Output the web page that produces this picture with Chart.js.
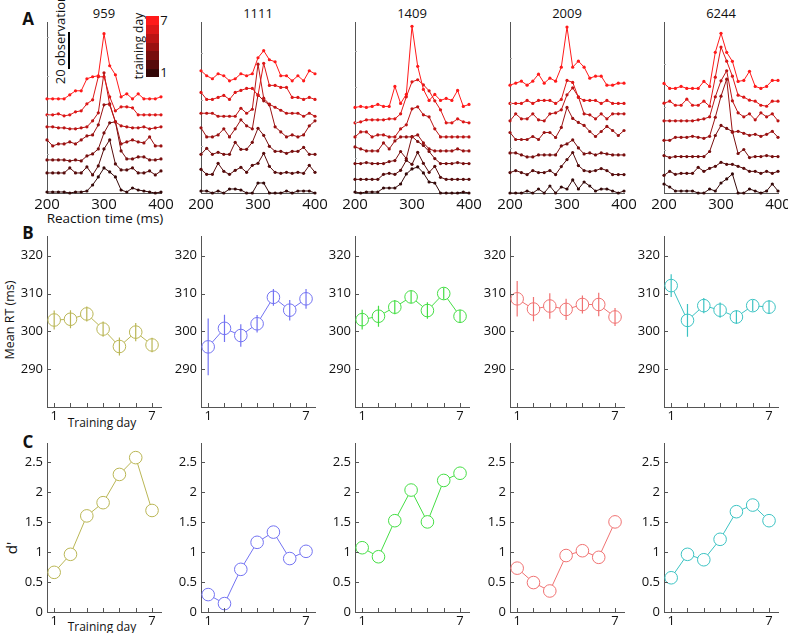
<!DOCTYPE html>
<html><head><meta charset="utf-8">
<script src="https://cdn.jsdelivr.net/npm/chart.js@4.4.1/dist/chart.umd.min.js"></script>
<style>
body{margin:0;background:#fff;width:788px;height:633px;position:relative;overflow:hidden;font-family:'Open Sans',sans-serif;color:#111;}
canvas{position:absolute;}
.t{position:absolute;white-space:nowrap;font-size:12px;line-height:1;transform:translate(-50%,-50%);}
.r{transform:translate(-50%,-50%) rotate(-90deg);}
.L{font-weight:bold;font-size:17px;}
.sw{position:absolute;left:146px;width:13px;}
</style></head><body>
<div class="t L" style="left:28px;top:18px">A</div>
<div class="t L" style="left:28px;top:232px">B</div>
<div class="t L" style="left:28px;top:441px">C</div>
<div class="t" style="left:105px;top:219px;font-size:13.5px">Reaction time (ms)</div>
<div class="t r" style="left:10px;top:320px;font-size:12.5px">Mean RT (ms)</div>
<div class="t" style="left:102px;top:423px">Training day</div>
<div class="t" style="left:102px;top:627px">Training day</div>
<div class="t r" style="left:11px;top:548px;font-size:15px">d'</div>
<div class="t r" style="left:60px;top:36px;font-size:13px">20 observations</div>
<div style="position:absolute;left:68px;top:32px;width:2px;height:37px;background:#000"></div>
<div class="t r" style="left:139px;top:46px;font-size:12px">training day</div>
<div class="t" style="left:164px;top:20px;font-size:13px">7</div>
<div class="t" style="left:164px;top:72px;font-size:13px">1</div>
<div id="cbar"></div>
<script>
// ---------- data ----------
const rtBins = [200,210,220,230,240,250,260,270,280,290,300,310,320,330,340,350,360,370,380,390,400];
const days = [1,2,3,4,5,6,7];
const animals = ['959','1111','1409','2009','6244'];

// RT histograms (counts per bin, one row per training day 1..7) and vertical stacking offsets
const hist959 = [
 [0.5,0.5,0.5,0.5,0,0.5,0.5,1,4,8,12.5,10.5,8,1.5,0.5,2.5,1.5,1,0.5,0,0.5],
 [1,1,1,1,3.5,1,1,4,0,4.5,13,17.5,5.5,2.5,2.5,3.5,1,1,2,0,2],
 [0.5,0.5,0.5,0.5,0,0.5,0,2.5,3.5,6,14,19,19.5,5,1,1,2,2,0.5,0.5,1],
 [3.5,0.5,1.5,1.5,2.5,1.5,3.5,5.5,6,11,21,21.5,12.5,1.5,2.5,3.5,2.5,2,5,0.5,0.5],
 [1,1,0.5,0.5,0,0,0.5,1,4,8,28,12,3.5,1.5,1,0.5,0.5,1,0,0.5,1],
 [0.5,0.5,1,0,0.5,2,2.5,6,8,19.5,19.5,9.5,2.5,4.5,4.5,4,0.5,0.5,0.5,0.5,0.5],
 [0,0,0,0,2,4,4,10,11,11.5,32.5,16.5,12,1,2.5,0,2.5,0,0,0,1]];
const offsets959 = [0,9,16,23,32,38.5,47];

const hist1111 = [
 [1,1,0,1,0,2,2,1.5,0,0,5,5,0,0,0,1,0,1,1,1,0],
 [2.5,0,0,5.5,1.5,0,2,3.5,1,4.5,5.5,10.5,4,1,0.5,1,0.5,1,0.5,4.5,1],
 [0,3,0,1,0,0,6,2.5,2.5,6,13,9.5,4,1.5,1.5,0.5,1.5,1.5,3.5,0,0],
 [4.5,0,0,1,4,0,4,8.5,5.5,4,21,18,16,5,2.5,0,1,0,1,5.5,8],
 [1.5,1.5,1.5,0,0,0,0,4,1.5,3.5,26,9,6,4.5,3,1.5,1.5,1.5,0,1.5,0],
 [3.5,0,0,1,2,0,3.5,4.5,5.5,5.5,2,18,7,7,6,6,1,1,0,1,0],
 [5,2.5,1,3.5,2.5,0,1,3.5,2.5,3.5,11.5,15,10.5,9.5,2.5,2.5,0,2.5,0,5,3.5]];
const offsets1111 = [0,9.3,19.3,28,38.3,46.7,56];

const hist1409 = [
 [0.5,0,0.5,0.5,0.5,2.5,2.5,2.5,4.5,9.5,12,13,10,5.5,5,0,0,0,0,0.5,0],
 [0,0,0,0,0,2.5,3,2.5,4.5,9.5,7.5,13.5,8,3.5,6.5,1,0,0,0,0,0],
 [0,0,0.5,0,0,0,1,1.5,6,2.5,13.5,11,9,6,2.5,0,0,0,0.5,0,0],
 [2,1,0,0,0,4,1,5,7,7,7,8,4,1,0,0,0,0,1,0,0],
 [0,2.5,2.5,0,1,1,0,0,4,6,14,15,11,10,4,0,0,0,0,0,0],
 [0,0.5,1.5,1.5,1.5,1.5,2,2,4.5,13,20.5,21.5,19,16,11,6.5,0,0,2,0.5,0],
 [0,0.5,0,0.5,1.5,0.5,0.5,10.5,2,6.5,40.5,20.5,9,3.5,6.5,3.5,4.5,3.5,8.5,0.5,1.5]];
const offsets1409 = [0,6.8,14.7,21,28,35,42.7];

const hist2009 = [
 [0,0,0,1,0,2,0,3.5,0,3,2,6.5,2,5.5,3.5,1,2,2,1,0,1],
 [1,2,1,0,2,1,1,2,0,4,7.5,11,4.5,2,1.5,2,3,2,0,0,0],
 [2,2,1,0,0,1,1,1,1,5.5,6.5,8.5,4.5,1.5,2,1,2,1.5,1,1,1],
 [3.5,0,0,0,1.5,0,3.5,3.5,1,6,16,10.5,8.5,7,4,1.5,4,6.5,4.5,2,4.5],
 [0,3.5,1,1,3.5,0.5,0,3.5,4,5.5,13,16.5,12,3.5,3,1,3.5,1,3.5,3.5,3.5],
 [0,0,0,1.5,0,1.5,1.5,1.5,0,2,11.5,10.5,3,1.5,1.5,1.5,0,1.5,0,0,0],
 [0,1,2,0,2,5.5,1,3.5,2,9,29,9,12,9,3.5,4.5,4.5,0,0,1,1]];
const offsets2009 = [0,9.2,18,26.7,36,44.7,53.8];

const hist6244 = [
 [4.5,3,1,1,1,1,0,0,2,1,5,7,9.5,0,0,2,1,0,1,4.5,1],
 [0,2,0.5,1,1,1,4,2,3.5,4.5,6.5,5.5,5.5,4.5,3.5,2,2,1,2,1,2],
 [1,0,0.5,0.5,0.5,0.5,0.5,0.5,3,11,16,14.5,13,2,4,0,0.5,0.5,1,0.5,0.5],
 [0,0,1.5,1.5,1.5,2,1.5,1,2,11.5,22,30.5,4,4.5,3.5,2.5,3,2,3,4.5,1.5],
 [0,0,0,0,0,0,0.5,1,2,12,20,25,10,4,2,3.5,0.5,4,2,3.5,0],
 [1.5,2.5,0.5,0.5,3.5,0.5,0.5,2.5,0,14.5,29.5,22.5,15,5.5,4.5,3,2.5,0.5,0,2.5,2.5],
 [2.5,0,0,1,0,0,0,3.5,1,18,27.5,18,13.5,3.5,4,8.5,1,0,1,4,4]];
const offsets6244 = [0,8.8,17.7,26.3,36,43.3,52.2];

// units per "20 observations" tick in each histogram panel
const obsTick = [19.5,23.3,17.7,22.5,21.5];

// Mean RT (ms) and error (ms) per training day
const meanRT959  = [303.0,303.2,304.6,300.6,296.0,299.8,296.4];
const errRT959   = [2.5,2.4,2.0,2.0,2.4,2.4,1.9];
const meanRT1111 = [295.9,300.8,298.9,302.0,309.0,305.6,308.6];
const errRT1111  = [7.5,3.6,3.0,2.3,2.2,2.7,2.6];
const meanRT1409 = [303.1,304.0,306.4,309.1,305.5,310.0,304.0];
const errRT1409  = [2.6,2.8,1.9,1.7,2.2,1.6,1.7];
const meanRT2009 = [308.6,305.9,306.7,305.8,307.1,307.1,303.8];
const errRT2009  = [4.7,3.2,3.4,2.8,2.4,3.1,2.4];
const meanRT6244 = [312.1,302.9,306.8,305.6,303.8,306.8,306.4];
const errRT6244  = [3.0,4.3,2.0,2.0,1.8,1.5,1.8];

// d' per training day
const dprime959  = [0.66,0.96,1.60,1.82,2.29,2.57,1.69];
const dprime1111 = [0.29,0.14,0.71,1.16,1.33,0.89,1.01];
const dprime1409 = [1.07,0.92,1.52,2.03,1.50,2.19,2.31];
const dprime2009 = [0.73,0.49,0.35,0.94,1.02,0.91,1.50];
const dprime6244 = [0.57,0.96,0.87,1.21,1.67,1.78,1.52];

const rtTicks = [200,300,400];
const meanTicks = [290,300,310,320];
const dTicks = [0,0.5,1,1.5,2,2.5];

// ---------- style ----------
const hists = [hist959,hist1111,hist1409,hist2009,hist6244];
const offs = [offsets959,offsets1111,offsets1409,offsets2009,offsets6244];
const means = [meanRT959,meanRT1111,meanRT1409,meanRT2009,meanRT6244];
const errs = [errRT959,errRT1111,errRT1409,errRT2009,errRT6244];
const dps = [dprime959,dprime1111,dprime1409,dprime2009,dprime6244];
const animalColors = ['#bab655','#7373f2','#45de45','#f07272','#3cc3c3'];
function dayColor(d){ const t=d/6; const r=Math.round(52+203*t), g=Math.round(8+18*t); return `rgb(${r},${g},${g})`; }

Chart.defaults.font.family = "'Open Sans', sans-serif";
Chart.defaults.font.size = 12;
Chart.defaults.color = '#111';
Chart.defaults.animation = false;

const colL = [47,201,355,510,664];
const PW = 114;
const AXC = '#555';

// colorbar
const cb = document.getElementById('cbar');
for(let d=0; d<7; d++){
  const s=document.createElement('div'); s.className='sw';
  const h=61/7; s.style.top=(77 - (d+1)*h)+'px'; s.style.height=(h+0.5)+'px'; s.style.background=dayColor(d);
  cb.appendChild(s);
}

animals.forEach((a,i)=>{
  const t=document.createElement('div'); t.className='t'; t.style.fontSize='13px';
  t.style.left=(colL[i]+PW/2)+'px'; t.style.top='12.5px'; t.textContent=a; document.body.appendChild(t);
});

function mk(x0, top, bottom, padL, padR, padT, padB, cfg){
  const cv=document.createElement('canvas');
  const W=padL+PW+padR, H=padT+(bottom-top)+padB;
  cv.width=W; cv.height=H;
  cv.style.left=(x0-padL)+'px'; cv.style.top=(top-padT)+'px';
  document.body.appendChild(cv);
  cfg.options.responsive=false;
  cfg.options.layout={padding:{left:0,right:padR,top:padT,bottom:0}};
  cfg.options.plugins={legend:{display:false},tooltip:{enabled:false}};
  cfg.options.scales.x.afterFit=s=>{s.height=padB;};
  cfg.options.scales.y.afterFit=s=>{s.width=padL;};
  return new Chart(cv,cfg);
}

function tickPlugin(xVals, yVals, len, color){
  return {id:'inticks', afterDatasetsDraw(chart){
    const c=chart.ctx, a=chart.chartArea, xs=chart.scales.x, ys=chart.scales.y;
    c.save(); c.strokeStyle=color; c.lineWidth=1; c.beginPath();
    yVals.forEach(v=>{const y=Math.round(ys.getPixelForValue(v))+0.5; c.moveTo(a.left,y); c.lineTo(a.left+len,y);});
    xVals.forEach(v=>{const x=Math.round(xs.getPixelForValue(v))+0.5; c.moveTo(x,a.bottom); c.lineTo(x,a.bottom-len);});
    c.stroke(); c.restore();
  }};
}

// Row A: RT histograms
for(let i=0;i<5;i++){
  const yt=[]; for(let v=obsTick[i]; v<85; v+=obsTick[i]) yt.push(v);
  mk(colL[i], 22, 193, 36, 20, 6, 24, {
    type:'line',
    data:{datasets: hists[i].map((counts,d)=>({
      data: rtBins.map((x,k)=>({x, y: offs[i][d]+counts[k]})),
      borderColor: dayColor(d), backgroundColor: dayColor(d),
      pointBackgroundColor: dayColor(d), pointBorderColor: dayColor(d),
      borderWidth:1, pointRadius:1.6, pointBorderWidth:0, clip:false, order:6-d, tension:0
    }))},
    options:{scales:{
      x:{type:'linear',min:200,max:400,afterBuildTicks:s=>{s.ticks=rtTicks.map(v=>({value:v}));},
         grid:{display:false,drawTicks:false},border:{color:AXC},ticks:{padding:3,font:{size:15}}},
      y:{type:'linear',min:0,max:85.33,grid:{display:false,drawTicks:false},border:{color:AXC},ticks:{display:false}}
    }},
    plugins:[tickPlugin([], yt, 2, '#aaa')]
  });
}

function errPlugin(vals, e, color){
  return {id:'errbars', afterDatasetsDraw(chart){
    const c=chart.ctx, xs=chart.scales.x, ys=chart.scales.y;
    c.save(); c.strokeStyle=color; c.lineWidth=1.2; c.beginPath();
    days.forEach((d,k)=>{const x=xs.getPixelForValue(d);
      c.moveTo(x, ys.getPixelForValue(vals[k]-e[k])); c.lineTo(x, ys.getPixelForValue(vals[k]+e[k]));});
    c.stroke(); c.restore();
  }};
}

function dayScale(){
  return {type:'linear',min:0.56,max:7.55,afterBuildTicks:s=>{s.ticks=days.map(v=>({value:v}));},
    grid:{display:false,drawTicks:false},border:{color:AXC},
    ticks:{padding:1,autoSkip:false,maxRotation:0,callback:v=>(v===1||v===7)?String(v):'',font:{size:13}}};
}

// Row B: mean RT
for(let i=0;i<5;i++){
  mk(colL[i], 235, 407, 36, 10, 10, 18, {
    type:'line',
    data:{datasets:[{data: days.map((d,k)=>({x:d,y:means[i][k]})),
      borderColor:animalColors[i], borderWidth:1, pointRadius:6.3, pointBorderWidth:1,
      pointBackgroundColor:'#fff', pointBorderColor:animalColors[i], clip:false, tension:0}]},
    options:{scales:{
      x: dayScale(),
      y:{type:'linear',min:280,max:325,afterBuildTicks:s=>{s.ticks=meanTicks.map(v=>({value:v}));},
         grid:{display:false,drawTicks:false},border:{color:AXC},ticks:{padding:4,font:{size:13},callback:v=>String(v)}}
    }},
    plugins:[tickPlugin(days, meanTicks, 4, AXC), errPlugin(means[i], errs[i], animalColors[i])]
  });
}

// Row C: d'
for(let i=0;i<5;i++){
  mk(colL[i], 442, 612, 36, 10, 10, 18, {
    type:'line',
    data:{datasets:[{data: days.map((d,k)=>({x:d,y:dps[i][k]})),
      borderColor:animalColors[i], borderWidth:1, pointRadius:6.3, pointBorderWidth:1,
      pointBackgroundColor:'#fff', pointBorderColor:animalColors[i], clip:false, tension:0}]},
    options:{scales:{
      x: dayScale(),
      y:{type:'linear',min:0,max:2.8,afterBuildTicks:s=>{s.ticks=dTicks.map(v=>({value:v}));},
         grid:{display:false,drawTicks:false},border:{color:AXC},ticks:{padding:4,font:{size:13},callback:v=>String(v)}}
    }},
    plugins:[tickPlugin(days, dTicks, 4, AXC)]
  });
}
</script>
</body></html>
